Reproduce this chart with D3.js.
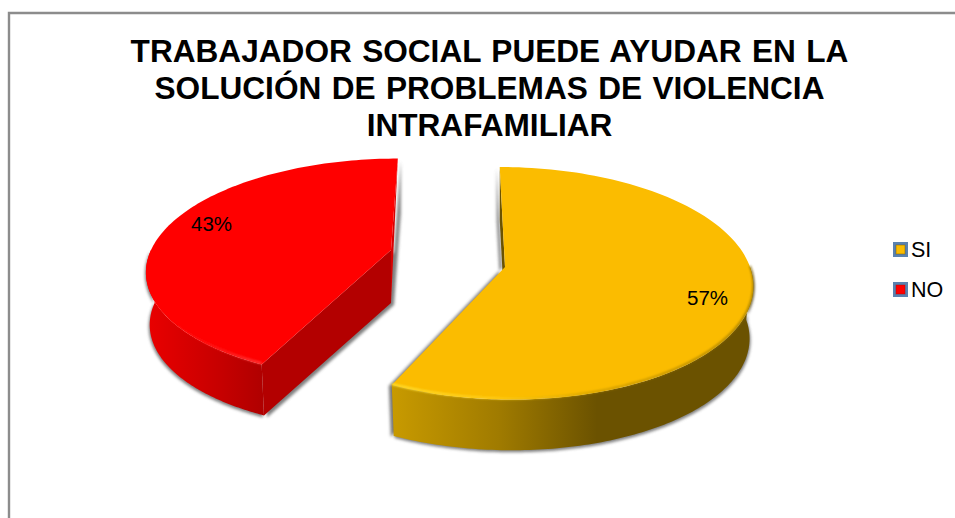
<!DOCTYPE html>
<html>
<head>
<meta charset="utf-8">
<script src="https://d3js.org/d3.v7.min.js"></script>
<style>
  html, body { margin: 0; padding: 0; background: #fff; overflow: hidden; }
  text { font-family: "Liberation Sans", Arial, sans-serif; fill: #000; }
</style>
</head>
<body>
<script>
//chart data
var categories = ["SI", "NO"];
var values = [57, 43];
var labels = ["57%", "43%"];
var titleLines = [
  "TRABAJADOR SOCIAL PUEDE AYUDAR EN LA",
  "SOLUCIÓN DE PROBLEMAS DE VIOLENCIA",
  "INTRAFAMILIAR"
];

var w = 955;
var h = 518;

//one look per slice: the centre moves because the pie is exploded
var looks = [
  {cx: 505, cy: 267, rx: 245, ry: 114, p: 0.14, skew: -6, depth: 53, top: "#fbbc00", inner: "#6b5200",
   stops: [[0, "#c99b00"], [0.3, "#a07b00"], [0.57, "#6b5200"], [1, "#6b5200"]], x0: 389, x1: 754,
   rimStops: [[0, "#ffe53a", 1], [0.3, "#ffd21e", 0.8], [0.6, "#b98e00", 0.7], [1, "#8a6a00", 0.8]]},
  {cx: 391, cy: 250, rx: 240, ry: 107, p: 0.17, skew: 8, depth: 53, top: "#ff0000", inner: "#b30000",
   stops: [[0, "#e80000"], [0.6, "#c80000"], [1, "#b00000"]], x0: 150, x1: 262,
   rimStops: [[0, "#ff0000", 0], [0.45, "#ff2020", 0.6], [1, "#ff5050", 0.9]]}
];

var svg = d3.select("body")
            .append("svg")
            .attr("width", w)
            .attr("height", h)
            .style("display", "block");

var defs = svg.append("defs");

defs.append("filter").attr("id", "soft")
  .attr("x", "-10%").attr("y", "-10%").attr("width", "120%").attr("height", "120%")
  .append("feGaussianBlur").attr("stdDeviation", 1.7);

defs.append("filter").attr("id", "softer")
  .attr("filterUnits", "userSpaceOnUse")
  .attr("x", 0).attr("y", 0).attr("width", w).attr("height", h)
  .append("feGaussianBlur").attr("stdDeviation", 0.8);

//frame, only the left and top sides are in the picture
svg.append("path")
  .attr("d", d3.line()([[955, 13], [9, 13], [9, 518]]))
  .attr("fill", "none")
  .attr("stroke", "#8c8c8c")
  .attr("stroke-width", 2.4);

//title
svg.selectAll(".title")
  .data(titleLines)
  .enter().append("text")
  .attr("class", "title")
  .attr("x", 489.5)
  .attr("y", function(d, i) { return 62 + i * 37; })
  .attr("text-anchor", "middle")
  .attr("font-size", 31.6)
  .attr("font-weight", "bold")
  .attr("word-spacing", 1.6)
  .text(function(d) { return d; });

var pie = d3.pie().sort(null);
var arcs = pie(values);
var line = d3.line();

//turn a point of the flat pie into a point on the page
var project = function(look, angle, r, z) {
  var a = Math.sin(angle) * r;
  var b = Math.cos(angle) * r;
  var k = 1 + look.p * b;
  return [
    look.cx + (a * look.rx + b * look.skew) / k,
    look.cy - b * look.ry / k + z * look.depth
  ];
};

var rim = function(look, d, z, r) {
  return d3.range(0, 121).map(function(i) {
    return project(look, d.startAngle + (d.endAngle - d.startAngle) * i / 120, r, z);
  });
};

//pieces of the front wall, only what faces us
var frontAngles = function(d) {
  var start = Math.max(d.startAngle, Math.PI / 2);
  var end = Math.min(d.endAngle, Math.PI * 3 / 2);
  return {startAngle: start, endAngle: end};
};

var addGradient = function(id, x0, x1, stops) {
  var grad = defs.append("linearGradient")
    .attr("id", id)
    .attr("gradientUnits", "userSpaceOnUse")
    .attr("x1", x0).attr("x2", x1)
    .attr("y1", 0).attr("y2", 0);
  grad.selectAll("stop")
    .data(stops)
    .enter().append("stop")
    .attr("offset", function(s) { return s[0]; })
    .attr("stop-color", function(s) { return s[1]; })
    .attr("stop-opacity", function(s) { return s[2] === undefined ? 1 : s[2]; });
};

arcs.forEach(function(d, i) {
  var look = looks[i];
  var g = svg.append("g").attr("class", "slice");
  var cut = i === 0 ? d.endAngle : d.startAngle;
  var apexTop = project(look, 0, 0, 0);
  var apexBottom = project(look, 0, 0, 1);
  var frontEnd = project(look, cut, 1, 0);
  var frontEndBottom = project(look, cut, 0.985, 1);
  var backEnd = project(look, 0, 1, 0);
  var backEndBottom = project(look, 0, 1, 1);
  var front = frontAngles(d);

  //shadow first, a blurred copy of the outline
  var outline = rim(look, front, 0, 1).concat(rim(look, front, 1, 0.985).reverse());
  g.append("path")
    .attr("d", line(outline) + "Z")
    .attr("fill", "#555")
    .attr("opacity", 0.75)
    .attr("filter", "url(#soft)")
    .attr("transform", i === 0 ? "translate(1,2)" : "translate(-1,2)");
  g.append("path")
    .attr("d", line([apexTop, frontEnd, frontEndBottom, apexBottom, backEndBottom, backEnd]) + "Z")
    .attr("fill", "#555")
    .attr("opacity", 0.75)
    .attr("filter", "url(#soft)")
    .attr("transform", i === 0 ? "translate(-3,1)" : "translate(3,2)");

  //side wall that goes with the cut
  if (i === 0) {
    g.append("path")
      .attr("d", line([backEnd, apexTop, apexBottom, backEndBottom]) + "Z")
      .attr("fill", look.inner);
  } else {
    g.append("path")
      .attr("d", line([apexTop, frontEnd, frontEndBottom, apexBottom]) + "Z")
      .attr("fill", look.inner);
    g.append("path")
      .attr("d", line([backEnd, apexTop, apexBottom]) + "Z")
      .attr("fill", "#d80000");
  }

  //curved wall with its shading from left to right
  addGradient("wall" + i, look.x0, look.x1, look.stops);
  g.append("path")
    .attr("d", line(rim(look, front, 0, 1).concat(rim(look, front, 1, 0.985).reverse())) + "Z")
    .attr("fill", "url(#wall" + i + ")");

  //top face
  g.append("path")
    .attr("d", line([apexTop].concat(rim(look, d, 0, 1))) + "Z")
    .attr("fill", look.top);

  //bevel along the front rim
  addGradient("rim" + i, look.x0, look.x1, look.rimStops);
  g.append("path")
    .attr("d", line(rim(look, front, -0.02, 1)))
    .attr("fill", "none")
    .attr("stroke", "url(#rim" + i + ")")
    .attr("stroke-width", 2)
    .attr("filter", "url(#softer)");
});

//percent labels
var labelPos = [[707.5, 305], [211.5, 231]];
svg.selectAll(".pct")
  .data(labels)
  .enter().append("text")
  .attr("class", "pct")
  .attr("x", function(d, i) { return labelPos[i][0]; })
  .attr("y", function(d, i) { return labelPos[i][1]; })
  .attr("text-anchor", "middle")
  .attr("font-size", 20.5)
  .text(function(d) { return d; });

//legend
var legendY = d3.scalePoint().domain(categories).range([249.5, 289.5]);
var legend = svg.selectAll(".legend")
  .data(categories)
  .enter().append("g")
  .attr("class", "legend")
  .attr("transform", function(d) { return "translate(893," + legendY(d) + ")"; });

legend.append("rect")
  .attr("x", 0).attr("y", -7.5)
  .attr("width", 15).attr("height", 15)
  .attr("fill", "#5a82b0");

legend.append("rect")
  .attr("x", 3).attr("y", -4.5)
  .attr("width", 9).attr("height", 9)
  .attr("fill", function(d, i) { return looks[i].top; })
  .attr("stroke", function(d, i) { return looks[i].inner; })
  .attr("stroke-opacity", 0.45)
  .attr("stroke-width", 1);

legend.append("text")
  .attr("x", 18)
  .attr("y", 7.5)
  .attr("font-size", 21.5)
  .text(function(d) { return d; });
</script>
</body>
</html>
